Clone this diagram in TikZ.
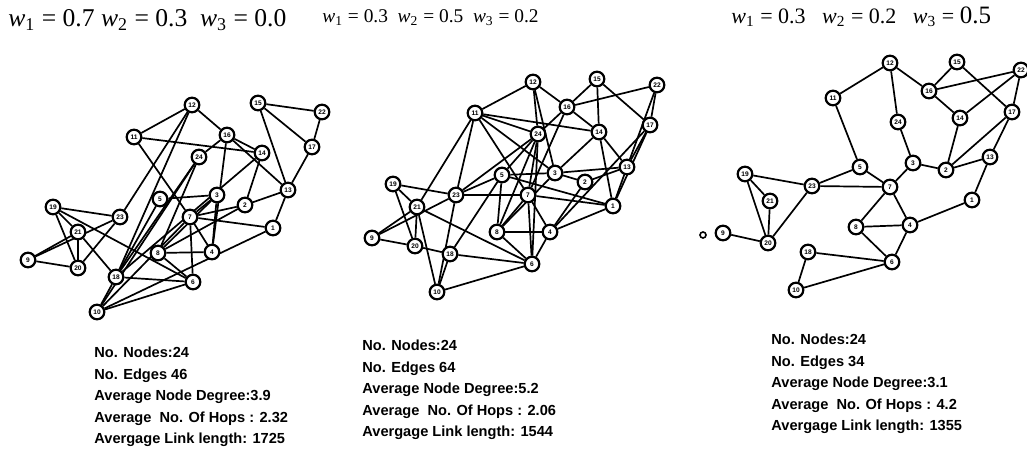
\documentclass[tikz,border=0pt]{standalone}
\usepackage{fontspec}
\setmainfont{Liberation Serif}
\newfontfamily\statfont{Liberation Sans}
\usetikzlibrary{backgrounds}
\newcommand{\wsub}[1]{\textit{w}\textsubscript{#1}}

\begin{document}
\begin{tikzpicture}[x=0.5pt, y=-0.5pt,
	vtx/.style={circle, draw, line width=1.1pt, fill=white, inner sep=0pt,
		minimum size=7.3pt, font=\statfont\bfseries\fontsize{3.3}{3.5}\selectfont},
	link/.style={line width=0.85pt},
	stat/.style={anchor=west, align=left, inner sep=0pt,
		font=\statfont\bfseries\fontsize{7.3}{10.8}\selectfont},
	weights/.style={anchor=west, inner sep=0pt}]
	\useasboundingbox (0,0) rectangle (1027,459);

	\node[weights, font=\fontsize{12.8}{14}\selectfont] (atitle) at (8,20)
		{\wsub{1} = 0.7 \wsub{2} = 0.3 \ \wsub{3} = 0.0};
	\node[weights, font=\fontsize{9.7}{12}\selectfont] (btitle) at (322,18)
		{\wsub{1} = 0.3 \ \wsub{2} = 0.5 \ \wsub{3} = 0.2};
	\node[weights, font=\fontsize{11}{12}\selectfont] (ctitle) at (731,17)
		{\wsub{1} = 0.3 \ \ \wsub{2} = 0.2 \ \ \wsub{3} = {\fontsize{12.5}{12}\selectfont 0.5}};

	\foreach \n/\x/\y in {12/192/105, 15/258/103, 22/322/112, 11/134/137, 16/227/135,
		14/262/153, 17/312/147, 24/199/157, 5/160/199, 3/217/195, 2/245/205,
		13/288/190, 19/53/207, 23/120/217, 7/190/217, 21/78/232, 1/273/228,
		9/28/260, 8/158/253, 4/212/252, 20/78/268, 18/116/277, 6/193/282, 10/97/312}
		\node[vtx] (a\n) at (\x,\y) {\n};
	\begin{pgfonlayer}{background}
		\foreach \u/\v in {12/11, 12/16, 12/23, 12/18, 11/14, 11/7, 16/14, 16/24, 16/4,
			16/13, 15/13, 15/22, 15/17, 22/17, 17/13, 13/2, 13/1, 14/2, 14/18, 24/18,
			24/8, 24/10, 5/3, 5/18, 3/7, 3/4, 3/8, 7/1, 7/2, 7/6, 7/4, 7/10, 2/8, 1/10,
			19/23, 19/21, 19/20, 19/6, 21/9, 21/20, 21/18, 23/9, 23/20, 9/20, 18/6,
			18/10, 10/6, 8/4, 8/6}
			\draw[link] (a\u) -- (a\v);
	\end{pgfonlayer}

	\foreach \n/\x/\y in {12/533/82, 15/597/79, 22/657/85, 16/567/107, 11/475/113,
		24/538/134, 14/599/132, 17/650/125, 5/502/175, 3/555/173, 2/585/182,
		13/627/167, 19/393/184, 23/456/195, 7/528/195, 1/613/206, 21/417/207,
		8/497/232, 4/550/232, 9/372/238, 20/415/246, 18/450/254, 6/532/264, 10/437/292}
		\node[vtx] (b\n) at (\x,\y) {\n};
	\begin{pgfonlayer}{background}
		\foreach \u/\v in {12/11, 12/24, 12/16, 12/3, 15/16, 15/14, 15/17, 16/22, 16/14,
			16/7, 16/24, 22/17, 22/13, 11/24, 11/14, 11/3, 11/23, 11/21, 11/7, 24/23,
			24/5, 24/7, 24/6, 24/8, 14/13, 14/1, 14/3, 17/13, 17/1, 17/4, 5/23, 5/3,
			5/1, 5/8, 5/18, 3/2, 3/13, 3/8, 2/4, 2/13, 13/1, 19/23, 19/21, 19/20,
			23/7, 23/10, 23/9, 7/1, 7/4, 7/6, 7/8, 21/9, 21/20, 21/6, 21/10, 9/20,
			20/18, 18/6, 18/10, 8/4, 8/6, 4/6, 4/1, 10/6}
			\draw[link] (b\u) -- (b\v);
	\end{pgfonlayer}

	\foreach \n/\x/\y in {12/890/63, 15/957/62, 22/1021/70, 16/929/91, 11/833/98,
		24/898/122, 14/960/118, 17/1012/112, 5/860/167, 3/913/163, 2/946/170,
		13/990/157, 19/745/174, 23/812/186, 7/890/187, 1/972/200, 21/770/201,
		8/856/227, 4/910/225, 9/723/233, 20/768/243, 18/808/252, 6/892/262, 10/796/290}
		\node[vtx] (c\n) at (\x,\y) {\n};
	\node[vtx, minimum size=3pt, line width=0.8pt] (c0) at (703,235) {};
	\begin{pgfonlayer}{background}
		\foreach \u/\v in {12/11, 12/24, 12/16, 15/16, 15/17, 22/16, 22/14, 22/17, 16/14,
			14/2, 17/2, 17/13, 11/5, 24/3, 5/23, 5/7, 3/7, 3/2, 2/13, 13/1, 19/23,
			19/21, 19/20, 21/20, 23/7, 23/20, 7/8, 7/4, 8/4, 8/6, 4/1, 4/6, 9/20,
			18/6, 18/10, 10/6}
			\draw[link] (c\u) -- (c\v);
	\end{pgfonlayer}

	\node[stat] (astat) at (94,397) {No. Nodes:24\\No. Edges 46\\Average Node Degree:3.9\\
		Average\ \ No. Of Hops : 2.32\\Avergage Link length: 1725};
	\node[stat] (bstat) at (362,390) {No. Nodes:24\\No. Edges 64\\Average Node Degree:5.2\\
		Average\ \ No. Of Hops : 2.06\\Avergage Link length: 1544};
	\node[stat] (cstat) at (771,384) {No. Nodes:24\\No. Edges 34\\Average Node Degree:3.1\\
		Average\ \ No. Of Hops : 4.2\\Avergage Link length: 1355};
\end{tikzpicture}
\end{document}
